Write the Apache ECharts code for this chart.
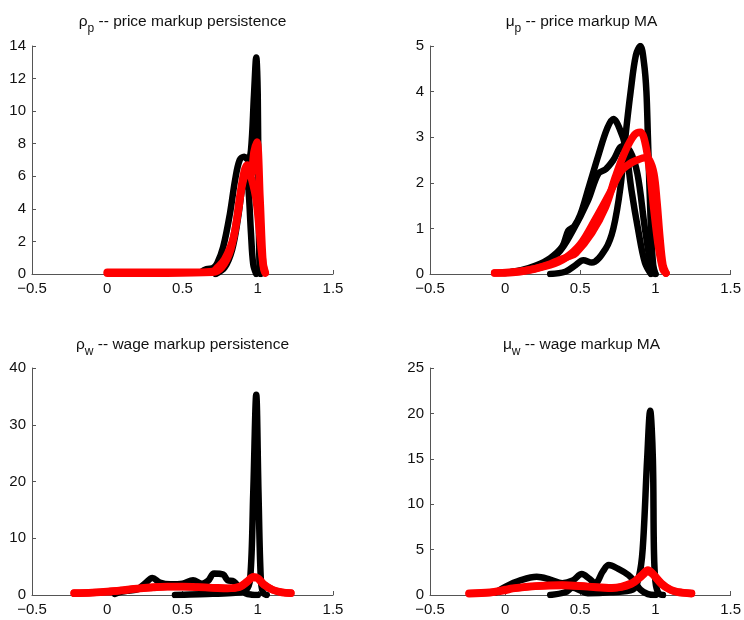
<!DOCTYPE html>
<html>
<head>
<meta charset="utf-8">
<script src="https://cdn.jsdelivr.net/npm/echarts@6/dist/echarts.min.js"></script>
<style>
html,body{margin:0;padding:0;background:#fff;}
#chart{width:744px;height:620px;}
</style>
</head>
<body>
<div id="chart"></div>
<script>
// ---- Data (x = parameter value, y = density) ----
const xTicks = [-0.5, 0, 0.5, 1, 1.5];

const titles = [
  ['ρ', 'p', ' -- price markup persistence'],
  ['μ', 'p', ' -- price markup MA'],
  ['ρ', 'w', ' -- wage markup persistence'],
  ['μ', 'w', ' -- wage markup MA']
];
const yMax = [14, 5, 40, 25];
const yStep = [2, 1, 10, 5];

// rho_p
const rhoP_black1 = [[0.62,0.1],[0.66,0.3],[0.70,0.35],[0.73,0.65],[0.77,1.65],[0.815,3.7],[0.85,5.8],[0.88,7.0],[0.91,7.2],[0.935,7.0],[0.955,7.6],[0.975,11],[0.99,13.3],[1.0,11],[1.005,5],[1.012,0.5],[1.02,0]];
const rhoP_black2 = [[0.72,0],[0.78,0.4],[0.83,1.5],[0.87,3.5],[0.9,5.5],[0.925,6.3],[0.94,5.0],[0.955,2.5],[0.97,0.6],[0.99,0]];
const rhoP_red1 = [[0,0.1],[0.3,0.1],[0.6,0.1],[0.7,0.15],[0.73,0.37],[0.78,0.9],[0.84,2.3],[0.88,4.7],[0.91,6.3],[0.93,6.7],[0.955,6.1],[0.975,7.5],[0.995,8.1],[1.015,4.7],[1.035,0.7],[1.05,0.1]];
const rhoP_red2 = [[0,0.05],[0.4,0.05],[0.7,0.1],[0.76,0.4],[0.82,1.5],[0.87,3.8],[0.9,5.6],[0.935,6.4],[0.96,5.8],[0.99,4.5],[1.02,1.8],[1.04,0.3],[1.05,0.05]];

// mu_p
const muP_black1 = [[0,0.03],[0.1,0.08],[0.2,0.18],[0.3,0.35],[0.38,0.6],[0.42,0.95],[0.46,1.05],[0.5,1.3],[0.556,1.9],[0.62,2.6],[0.68,3.2],[0.72,3.4],[0.76,3.2],[0.8,2.8],[0.84,1.85],[0.886,0.95],[0.93,0.25],[0.97,0]];
const muP_black2 = [[0.3,0],[0.4,0.05],[0.47,0.2],[0.52,0.3],[0.576,0.25],[0.668,0.55],[0.72,1.0],[0.767,1.9],[0.80,3.0],[0.835,4.0],[0.87,4.8],[0.9,5.0],[0.925,4.6],[0.94,4.0],[0.95,3.0],[0.97,1.0],[0.985,0.2],[1.0,0]];
const muP_black3 = [[0,0.02],[0.2,0.15],[0.35,0.45],[0.45,0.95],[0.55,1.6],[0.62,2.2],[0.67,2.3],[0.72,2.5],[0.78,2.8],[0.83,2.7],[0.88,2.2],[0.93,1.0],[0.97,0.2],[1.0,0]];
const muP_red1 = [[-0.07,0.02],[0.1,0.06],[0.2,0.12],[0.3,0.22],[0.358,0.3],[0.42,0.38],[0.47,0.46],[0.576,0.9],[0.668,1.47],[0.734,2.13],[0.8,2.7],[0.86,3.05],[0.9,3.11],[0.93,2.9],[0.96,2.3],[0.99,1.4],[1.02,0.6],[1.05,0.1],[1.07,0.02]];
const muP_red2 = [[-0.07,0.02],[0.1,0.05],[0.3,0.2],[0.4,0.35],[0.5,0.65],[0.6,1.2],[0.7,1.8],[0.77,2.25],[0.83,2.42],[0.88,2.5],[0.93,2.55],[0.96,2.5],[0.99,2.2],[1.01,1.6],[1.03,0.8],[1.05,0.2],[1.07,0.02]];

// rho_w
const rhoW_black1 = [[0.05,0.2],[0.1,0.6],[0.15,0.8],[0.2,1.0],[0.25,2.0],[0.3,3.0],[0.35,2.2],[0.42,1.9],[0.5,2.0],[0.57,2.6],[0.63,2.0],[0.67,2.5],[0.71,3.8],[0.77,3.6],[0.8,2.6],[0.84,2.4],[0.88,1.2],[0.92,0.3],[0.96,0.05],[1.0,0]];
const rhoW_black2 = [[0.45,0],[0.55,0.1],[0.7,0.2],[0.85,0.4],[0.92,0.8],[0.95,3],[0.97,18],[0.99,35.3],[1.005,18],[1.02,3],[1.035,0.4],[1.06,0]];
const rhoW_red1 = [[-0.22,0.35],[-0.1,0.45],[0,0.6],[0.1,0.85],[0.2,1.15],[0.3,1.4],[0.4,1.5],[0.5,1.5],[0.6,1.4],[0.7,1.3],[0.8,1.2],[0.88,1.4],[0.93,2.3],[0.97,3.1],[1.0,2.9],[1.04,1.8],[1.1,0.9],[1.16,0.5],[1.22,0.35]];
const rhoW_red2 = [[-0.22,0.3],[-0.1,0.4],[0,0.55],[0.1,0.8],[0.2,1.1],[0.3,1.3],[0.4,1.45],[0.5,1.45],[0.6,1.35],[0.7,1.25],[0.8,1.15],[0.88,1.5],[0.93,2.4],[0.97,3.2],[1.0,3.0],[1.04,1.9],[1.1,0.9],[1.16,0.45],[1.22,0.3]];

// mu_w
const muW_black1 = [[-0.06,0.3],[0.0,0.9],[0.1,1.6],[0.21,2.0],[0.3,1.7],[0.38,1.3],[0.45,1.6],[0.51,2.3],[0.56,1.8],[0.6,1.3],[0.65,2.6],[0.69,3.3],[0.75,2.9],[0.82,2.2],[0.86,1.5],[0.9,0.6],[0.95,0.1],[1.0,0]];
const muW_black2 = [[0.3,0],[0.4,0.3],[0.45,0.8],[0.5,0.5],[0.55,0.2],[0.7,0.3],[0.85,0.6],[0.89,2],[0.915,5],[0.945,15],[0.965,20.3],[0.983,15],[0.99,5],[1.0,1.5],[1.02,0.2],[1.05,0]];
const muW_red1 = [[-0.24,0.2],[-0.1,0.3],[0.0,0.6],[0.05,0.75],[0.2,1.0],[0.38,1.1],[0.55,0.95],[0.71,0.8],[0.84,1.3],[0.91,2.2],[0.95,2.75],[0.98,2.4],[1.04,1.3],[1.1,0.6],[1.15,0.35],[1.24,0.2]];
const muW_red2 = [[-0.24,0.15],[-0.1,0.25],[0.0,0.5],[0.05,0.7],[0.2,0.95],[0.38,1.05],[0.55,0.9],[0.71,0.75],[0.84,1.2],[0.91,2.1],[0.95,2.6],[0.98,2.3],[1.04,1.2],[1.1,0.55],[1.15,0.3],[1.24,0.15]];

const panels = [
  {black:[rhoP_black1, rhoP_black2], red:[rhoP_red1, rhoP_red2]},
  {black:[muP_black1, muP_black2, muP_black3], red:[muP_red1, muP_red2]},
  {black:[rhoW_black1, rhoW_black2], red:[rhoW_red1, rhoW_red2]},
  {black:[muW_black1, muW_black2], red:[muW_red1, muW_red2]}
];

// ---- Layout / style ----
const FONT = '"Liberation Sans", Arial, Helvetica, sans-serif';
const grids = [
  {left:32, top:46, width:301, height:228},
  {left:430, top:46, width:303, height:228},
  {left:32, top:368, width:301, height:227},
  {left:430, top:368, width:303, height:227}
];
const titleY = [20, 20, 343, 343];

const chart = echarts.init(document.getElementById('chart'), null, {renderer:'canvas'});
const axisColor = '#555';
const fmt = v => String(v).replace('-', '\u2212');

const xAxes = grids.map((g,i) => ({
  type:'value', gridIndex:i, min:xTicks[0], max:xTicks[xTicks.length-1], interval:0.5,
  axisLine:{show:true, onZero:false, lineStyle:{color:axisColor, width:1}},
  axisTick:{show:true, inside:true, length:4, lineStyle:{color:axisColor}},
  axisLabel:{color:'#111', fontSize:15, fontFamily:FONT, margin:7, formatter:fmt, showMinLabel:true, showMaxLabel:true},
  splitLine:{show:false}
}));
const yAxes = grids.map((g,i) => ({
  type:'value', gridIndex:i, min:0, max:yMax[i], interval:yStep[i],
  axisLine:{show:true, onZero:false, lineStyle:{color:axisColor, width:1}},
  axisTick:{show:true, inside:true, length:4, lineStyle:{color:axisColor}},
  axisLabel:{color:'#111', fontSize:15, fontFamily:FONT, margin:6, showMinLabel:true, showMaxLabel:true},
  splitLine:{show:false}
}));

const series = [];
panels.forEach((p,i) => {
  p.black.forEach(d => series.push({
    type:'line', xAxisIndex:i, yAxisIndex:i, data:d, smooth:0.35, showSymbol:false, symbol:'none',
    lineStyle:{color:'#000', width:6.5, cap:'round', join:'round'}, z:2, silent:true, animation:false
  }));
  p.red.forEach(d => series.push({
    type:'line', xAxisIndex:i, yAxisIndex:i, data:d, smooth:0.35, showSymbol:false, symbol:'none',
    lineStyle:{color:'#ff0000', width:7.5, cap:'round', join:'round'}, z:3, silent:true, animation:false
  }));
});

const graphics = titles.map((t,i) => ({
  type:'text',
  x: grids[i].left + grids[i].width/2,
  y: titleY[i],
  style:{
    text:'{a|' + t[0] + '}{s|' + t[1] + '}{a|' + t[2] + '}',
    textAlign:'center', textVerticalAlign:'middle',
    rich:{
      a:{fontSize:15.5, fontFamily:FONT, fill:'#111', lineHeight:19, verticalAlign:'bottom'},
      s:{fontSize:12, fontFamily:FONT, fill:'#111', lineHeight:12, verticalAlign:'bottom', padding:[0,0,-5,0]}
    }
  }
}));

chart.setOption({
  animation:false,
  backgroundColor:'#fff',
  grid:grids.map(g => Object.assign({containLabel:false}, g)),
  xAxis:xAxes,
  yAxis:yAxes,
  series:series,
  graphic:graphics
});
</script>
</body>
</html>
